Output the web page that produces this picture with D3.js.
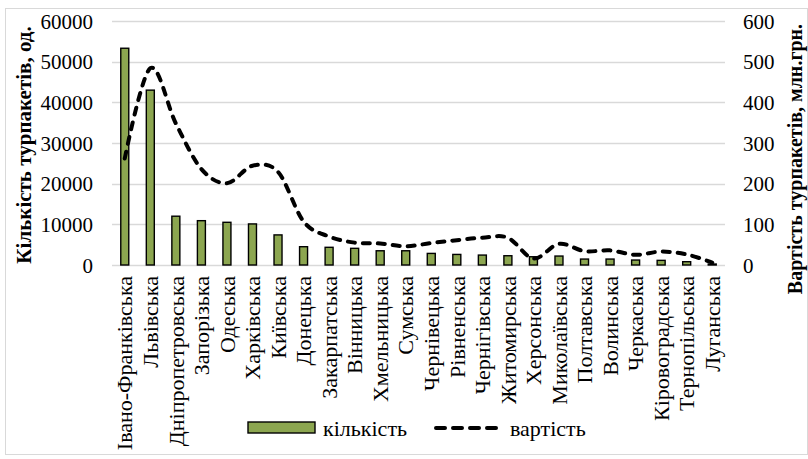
<!DOCTYPE html>
<html>
<head>
<meta charset="utf-8">
<script src="https://cdn.jsdelivr.net/npm/d3@7"></script>
<style>
  html, body { margin: 0; padding: 0; background: #fff; }
  svg { display: block; }
  text { font-family: "Liberation Serif", "Times New Roman", serif; fill: #000; }
</style>
</head>
<body>
<svg id="chart" width="808" height="459"></svg>
<script>
const categories = ["Івано-Франківська","Львівська","Дніпропетровська","Запорізька","Одеська","Харківська","Київська","Донецька","Закарпатська","Вінницька","Хмельницька","Сумська","Чернівецька","Рівненська","Чернігівська","Житомирська","Херсонська","Миколаївська","Полтавська","Волинська","Черкаська","Кіровоградська","Тернопільська","Луганська"];
const countValues = [53300,43000,12000,10900,10500,10100,7400,4500,4350,4100,3500,3500,2850,2600,2440,2280,2030,2200,1460,1460,1220,1140,810,240];
const costValues = [262,484,348,236,201,244,229,107,70,55,53,46,54,61,67,67,16,52,34,36,25,33,26,6];
const leftTicks = [0,10000,20000,30000,40000,50000,60000];
const rightTicks = [0,100,200,300,400,500,600];
const leftTitle = "Кількість турпакетів, од.";
const rightTitle = "Вартість турпакетів, млн.грн.";
const legendLabels = ["кількість","вартість"];

const svg = d3.select("#chart");
const plot = {left: 112, right: 725, top: 21, bottom: 265};

// border
svg.append("rect").attr("x",5.5).attr("y",8.5).attr("width",802).attr("height",446)
  .attr("fill","none").attr("stroke","#d9d9d9").attr("stroke-width",1);

const x = d3.scaleBand().domain(categories).range([plot.left, plot.right]).padding(0);
const yL = d3.scaleLinear().domain([0,60000]).range([plot.bottom, plot.top]);
const yR = d3.scaleLinear().domain([0,600]).range([plot.bottom, plot.top]);

// gridlines
svg.append("g").selectAll("line").data(leftTicks).join("line")
  .attr("x1",plot.left).attr("x2",plot.right)
  .attr("y1",d=>Math.round(yL(d))+0.5).attr("y2",d=>Math.round(yL(d))+0.5)
  .attr("stroke","#d9d9d9").attr("stroke-width",1.3);

// left axis
const gL = svg.append("g").attr("transform",`translate(${plot.left-19},0)`)
  .call(d3.axisLeft(yL).tickValues(leftTicks).tickSize(0).tickPadding(0).tickFormat(d3.format("d")));
gL.select(".domain").remove();
gL.selectAll("text").attr("font-size",21).attr("font-family","Liberation Serif, serif").attr("dy","0.34em");

// right axis
const gR = svg.append("g").attr("transform",`translate(${plot.right+18},0)`)
  .call(d3.axisRight(yR).tickValues(rightTicks).tickSize(0).tickPadding(0).tickFormat(d3.format("d")));
gR.select(".domain").remove();
gR.selectAll("text").attr("font-size",21).attr("font-family","Liberation Serif, serif").attr("dy","0.34em");

// bars
const bw = 8;
svg.append("g").selectAll("rect").data(categories).join("rect")
  .attr("x",(d)=>x(d)+x.bandwidth()/2-bw/2)
  .attr("width",bw)
  .attr("y",(d,i)=>yL(countValues[i]))
  .attr("height",(d,i)=>plot.bottom-yL(countValues[i]))
  .attr("fill","#8ca650").attr("stroke","#000").attr("stroke-width",1.4);

// line
const line = d3.line()
  .x((d,i)=>x(categories[i])+x.bandwidth()/2)
  .y(d=>yR(d))
  .curve(d3.curveCardinal.tension(0));
svg.append("path").datum(costValues).attr("d",line)
  .attr("fill","none").attr("stroke","#000").attr("stroke-width",4)
  .attr("stroke-dasharray","7,8").attr("stroke-linecap","round");

// category labels
svg.append("g").selectAll("text").data(categories).join("text")
  .attr("transform",d=>`translate(${x(d)+x.bandwidth()/2},${plot.bottom+11}) rotate(-90)`)
  .attr("text-anchor","end").attr("dy","0.35em")
  .attr("font-size",22).text(d=>d);

// axis titles
svg.append("text").attr("transform",`translate(24,${(plot.top+plot.bottom)/2+2}) rotate(-90)`)
  .attr("text-anchor","middle").attr("dy","0.35em").attr("font-size",21).attr("font-weight","bold")
  .text(leftTitle);
svg.append("text").attr("transform",`translate(795,${(plot.top+plot.bottom)/2+16}) rotate(-90)`)
  .attr("text-anchor","middle").attr("dy","0.35em").attr("font-size",20).attr("font-weight","bold")
  .text(rightTitle);

// legend
const lg = svg.append("g");
lg.append("rect").attr("x",248).attr("y",422).attr("width",67).attr("height",11)
  .attr("fill","#8ca650").attr("stroke","#000").attr("stroke-width",1.4);
lg.append("text").attr("x",323).attr("y",428).attr("dy","0.35em").attr("font-size",22).text(legendLabels[0]);
lg.append("line").attr("x1",436).attr("x2",501).attr("y1",428).attr("y2",428)
  .attr("stroke","#000").attr("stroke-width",4).attr("stroke-dasharray","9,8").attr("stroke-linecap","round");
lg.append("text").attr("x",510).attr("y",428).attr("dy","0.35em").attr("font-size",22).text(legendLabels[1]);
</script>
</body>
</html>
